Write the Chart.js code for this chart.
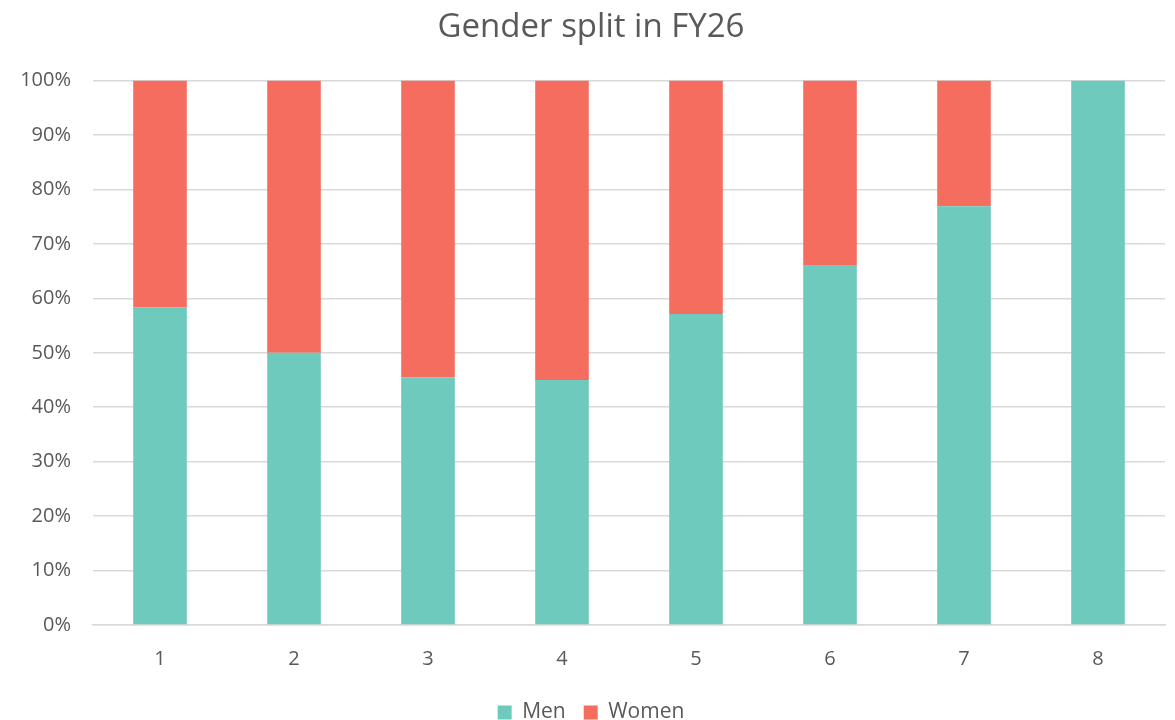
<!DOCTYPE html>
<html>
<head>
<meta charset="utf-8">
<script src="https://cdn.jsdelivr.net/npm/chart.js@4"></script>
<style>
  html, body { margin: 0; padding: 0; background: #ffffff; }
  #wrap { width: 1175px; height: 720px; }
</style>
</head>
<body>
<div id="wrap"><canvas id="c" width="1175" height="720"></canvas></div>
<script>
const categories = ['1', '2', '3', '4', '5', '6', '7', '8'];
const menShare = [58.33, 50, 45.45, 45, 57.14, 66, 76.92, 100];
const womenShare = [41.67, 50, 54.55, 55, 42.86, 34, 23.08, 0];
const yTicks = [0, 10, 20, 30, 40, 50, 60, 70, 80, 90, 100];

const textColor = '#595959';
const fontFamily = '"Open Sans", "Noto Sans", sans-serif';

new Chart(document.getElementById('c'), {
  type: 'bar',
  data: {
    labels: categories,
    datasets: [
      { label: 'Men', data: menShare, backgroundColor: '#6FCABE', borderWidth: 0,
        categoryPercentage: 1, barPercentage: 0.4 },
      { label: 'Women', data: womenShare, backgroundColor: '#F46D5F', borderWidth: 0,
        categoryPercentage: 1, barPercentage: 0.4 }
    ]
  },
  options: {
    responsive: false,
    animation: false,
    layout: { padding: { left: 17, right: 10, top: 0, bottom: -13 } },
    plugins: {
      title: {
        display: true,
        text: 'Gender split in FY26',
        color: textColor,
        font: { family: fontFamily, size: 33, weight: 'normal' },
        padding: { top: 8, bottom: 33 }
      },
      legend: {
        position: 'bottom',
        labels: {
          color: textColor,
          font: { family: fontFamily, size: 21 },
          boxWidth: 14, boxHeight: 14, padding: 18
        }
      },
      tooltip: { enabled: false }
    },
    scales: {
      x: {
        stacked: true,
        afterFit: (s) => { s.height = 59; },
        grid: { display: false, drawTicks: false },
        border: { color: '#D9D9D9', width: 1.5 },
        ticks: { color: textColor, font: { family: fontFamily, size: 20 }, padding: 22 }
      },
      y: {
        stacked: true,
        min: 0, max: 100,
        afterFit: (s) => { s.width = 76; },
        afterBuildTicks: (s) => { s.ticks = yTicks.map(v => ({ value: v })); },
        grid: { color: '#D9D9D9', lineWidth: 1.5, drawTicks: false },
        border: { display: false },
        ticks: {
          color: textColor,
          font: { family: fontFamily, size: 20 },
          padding: 22,
          callback: (v) => v + '%'
        }
      }
    }
  }
});
</script>
</body>
</html>
